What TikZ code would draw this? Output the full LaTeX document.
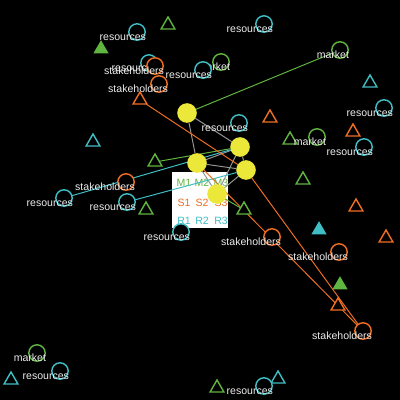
\documentclass[tikz,border=0pt]{standalone}
\usepackage{fontspec}
\usepackage{tikz}
\usetikzlibrary{shapes.geometric}
\newfontfamily\labfont{Liberation Sans}
\newcommand\labsize{\labfont\fontsize{7.5}{9}\selectfont}
\definecolor{rescol}{RGB}{64,190,198}
\definecolor{stkcol}{RGB}{240,110,35}
\definecolor{mktcol}{RGB}{96,180,64}
\definecolor{hubcol}{RGB}{236,232,58}
\definecolor{linkcol}{RGB}{150,150,150}
\definecolor{labcol}{RGB}{236,236,236}
\pgfdeclarelayer{bg}
\pgfsetlayers{bg,main}

\begin{document}
\begin{tikzpicture}[x=0.025cm, y=-0.025cm,
  every node/.style={inner sep=0pt, outer sep=0pt},
  ring/.style={circle, draw=#1, fill=black, line width=1pt, minimum size=0.41cm},
  tri/.style={regular polygon, regular polygon sides=3, draw=#1, fill=black, line width=1pt, minimum size=0.40cm},
  solidtri/.style={regular polygon, regular polygon sides=3, fill=#1, minimum size=0.44cm},
  labtxt/.style={text=labcol, font=\labsize, anchor=base east},
  lab/.style={append after command={node[labtxt] at ([shift={(9,8.5)}]\tikzlastnode.center) {#1}}},
  hub/.style={circle, fill=hubcol, minimum size=0.49cm},
  keybox/.style={fill=white, minimum size=1.4cm},
  ktxt/.style={font=\labsize},
  link/.style={draw=#1, line width=0.7pt}
]
\useasboundingbox (0,0) rectangle (400,400);
\node[ring=rescol, lab=resources] (res1) at (137,32) {};
\node[tri=mktcol] (gtri1) at (168,25) {};
\node[solidtri=mktcol] (gsol1) at (101,49) {};
\node[ring=rescol, lab=resources] (res4) at (264,24) {};
\node[ring=mktcol, lab=market] (mkt2) at (340,50) {};
\node[ring=rescol, lab=resources] (res2) at (149,63) {};
\node[ring=stkcol, lab=stakeholders] (stk1) at (155,66) {};
\node[ring=stkcol, lab=stakeholders] (stk2) at (159,84) {};
\node[ring=mktcol, lab=market] (mkt1) at (221,62) {};
\node[ring=rescol, lab=resources] (res3) at (203,70) {};
\node[tri=stkcol] (otri1) at (140,100) {};
\node[tri=rescol] (ctri1) at (370,83) {};
\node[ring=rescol, lab=resources] (res5) at (384,108) {};
\node[tri=stkcol] (otri2) at (270,118) {};
\node[ring=rescol, lab=resources] (res6) at (239,123) {};
\node[tri=stkcol] (otri3) at (353,132) {};
\node[tri=mktcol] (gtri2) at (290,140) {};
\node[ring=mktcol, lab=market] (mkt3) at (317,137) {};
\node[ring=rescol, lab=resources] (res7) at (364,147) {};
\node[tri=rescol] (ctri2) at (93,142) {};
\node[tri=mktcol] (gtri3) at (155,162) {};
\node[tri=mktcol] (gtri4) at (303,180) {};
\node[ring=stkcol, lab=stakeholders] (stk3) at (126,182) {};
\node[ring=rescol, lab=resources] (res8) at (64,198) {};
\node[ring=rescol, lab=resources] (res9) at (127,202) {};
\node[tri=mktcol] (gtri5) at (146,210) {};
\node[tri=mktcol] (gtri6) at (244,210) {};
\node[tri=stkcol] (otri4) at (356,207) {};
\node[solidtri=rescol] (csol1) at (319,230) {};
\node[tri=stkcol] (otri5) at (386,238) {};
\node[ring=rescol, lab=resources] (res10) at (181,232) {};
\node[ring=stkcol, lab=stakeholders] (stk4) at (272,237) {};
\node[ring=stkcol, lab=stakeholders] (stk5) at (339,252) {};
\node[solidtri=mktcol] (gsol2) at (340,285) {};
\node[tri=stkcol] (otri6) at (338,306) {};
\node[ring=stkcol, lab=stakeholders] (stk6) at (363,331) {};
\node[ring=mktcol, lab=market] (mkt4) at (37,353) {};
\node[ring=rescol, lab=resources] (res11) at (60,371) {};
\node[tri=rescol] (ctri3) at (11,380) {};
\node[tri=mktcol] (gtri7) at (217,388) {};
\node[tri=rescol] (ctri4) at (278,379) {};
\node[ring=rescol, lab=resources] (res12) at (264,386) {};
\node[hub] (hub1) at (187,113) {};
\node[hub] (hub2) at (240,147) {};
\node[hub] (hub3) at (197,163) {};
\node[hub] (hub4) at (246,170) {};
\node[hub] (hub5) at (217,194) {};
\begin{pgfonlayer}{bg}
\fill[black] (0,0) rectangle (400,400);
\node[keybox] (key) at (200,200) {};
\node[ktxt, text=mktcol] (m1) at (184,183) {M1};
\node[ktxt, text=mktcol] (m2) at (202,183) {M2};
\node[ktxt, text=mktcol] (m3) at (221,183) {M3};
\node[ktxt, text=stkcol] (s1) at (184,203) {S1};
\node[ktxt, text=stkcol] (s2) at (202,203) {S2};
\node[ktxt, text=stkcol] (s3) at (221,203) {S3};
\node[ktxt, text=rescol] (r1) at (184,221) {R1};
\node[ktxt, text=rescol] (r2) at (202,221) {R2};
\node[ktxt, text=rescol] (r3) at (221,221) {R3};
\draw[link=linkcol] (hub1) -- (hub2);
\draw[link=linkcol] (hub1) -- (hub3);
\draw[link=linkcol] (hub2) -- (hub3);
\draw[link=linkcol] (hub2) -- (hub4);
\draw[link=linkcol] (hub3) -- (hub4);
\draw[link=linkcol] (hub3) -- (hub5);
\draw[link=linkcol] (hub2) -- (hub5);
\draw[link=linkcol] (hub4) -- (hub5);
\draw[link=mktcol] (hub1) -- (mkt2);
\draw[link=mktcol] (gtri3) -- (hub2);
\draw[link=mktcol] (hub5) -- (gtri6);
\draw[link=rescol] (res8) -- (hub2);
\draw[link=rescol] (res9) -- (hub4);
\draw[link=stkcol] (otri1) -- (hub4);
\draw[link=stkcol] (hub4) -- (stk6);
\draw[link=stkcol] (hub3) -- (stk6);
\end{pgfonlayer}
\end{tikzpicture}
\end{document}
